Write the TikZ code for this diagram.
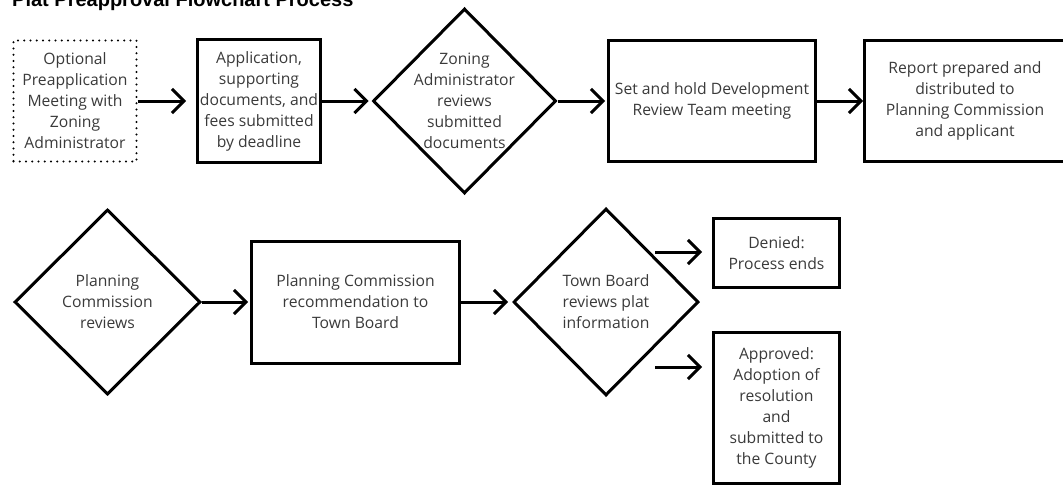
\documentclass[tikz,border=0pt]{standalone}
\usepackage{fontspec}
\setmainfont{Open Sans}
\newfontfamily\titlefont{Liberation Sans}
\usetikzlibrary{arrows.meta,shapes.geometric}
\definecolor{txt}{HTML}{3A3A3A}
\begin{document}
\begin{tikzpicture}[x=1pt,y=-1pt,
  box/.style={draw=black, line width=3pt, rectangle, inner sep=0pt, text=txt, align=center, font=\fontsize{15.7}{21}\selectfont},
  dotbox/.style={box, line width=2.4pt, dash pattern=on 0pt off 6.25pt, line cap=round},
  dia/.style={draw=black, line width=3pt, diamond, inner sep=0pt},
  lbl/.style={text=txt, align=center, font=\fontsize{15.7}{21}\selectfont, inner sep=0pt},
  arr/.style={line width=3pt, -{Straight Barb[length=12pt,width=24pt]}, shorten >=2pt}
]
\useasboundingbox (0,0) rectangle (1063,487);

\node[anchor=base west, inner sep=0pt, font=\titlefont\bfseries\fontsize{20}{22}\selectfont] (title) at (12,6.5) {Plat Preapproval Flowchart Process};

% row 1
\node[dotbox, minimum width=123pt, minimum height=121pt] (b1) at (75,101) {Optional\\Preapplication\\Meeting with\\Zoning\\Administrator};
\node[box, minimum width=123pt, minimum height=123pt] (b2) at (259,101) {Application,\\supporting\\documents, and\\fees submitted\\by deadline};
\node[dia, minimum width=183pt, minimum height=185pt] (d1) at (464.5,101) {};
\node[lbl] (d1t) at (d1.center) {Zoning\\Administrator\\reviews\\submitted\\documents};
\node[box, minimum width=207pt, minimum height=121pt] (b3) at (712,101) {Set and hold Development\\Review Team meeting};
\node[box, minimum width=201pt, minimum height=121pt] (b4) at (965,101) {Report prepared and\\distributed to\\Planning Commission\\and applicant};

% row 2
\node[dia, minimum width=186pt, minimum height=185pt] (d2) at (107.5,302) {};
\node[lbl] (d2t) at (d2.center) {Planning\\Commission\\reviews};
\node[box, minimum width=208pt, minimum height=122pt] (b5) at (355.5,302) {Planning Commission\\recommendation to\\Town Board};
\node[dia, minimum width=185pt, minimum height=187pt] (d3) at (606,302) {};
\node[lbl] (d3t) at (d3.center) {Town Board\\reviews plat\\information};
\node[box, minimum width=126pt, minimum height=69pt] (b6) at (776.5,253) {Denied:\\Process ends};
\node[box, minimum width=126pt, minimum height=151pt] (b7) at (776.5,408) {Approved:\\Adoption of\\resolution\\and\\submitted to\\the County};

\coordinate (s1) at (655,252);
\coordinate (s2) at (655,367);

% connectors
\draw[arr, shorten >=10pt] (b1.east) -- (b2.west);
\draw[arr, shorten >=3pt] (b2.east) -- (d1.west);
\draw[arr] (d1.east) -- (b3.west);
\draw[arr, shorten >=0pt] (b3.east) -- (b4.west);
\draw[arr] (d2.east) -- (b5.west);
\draw[arr, shorten >=4pt] (b5.east) -- (d3.west);
\draw[arr, shorten >=10pt] (s1) -- (s1 -| b6.west);
\draw[arr, shorten >=10pt] (s2) -- (s2 -| b7.west);
\end{tikzpicture}
\end{document}
